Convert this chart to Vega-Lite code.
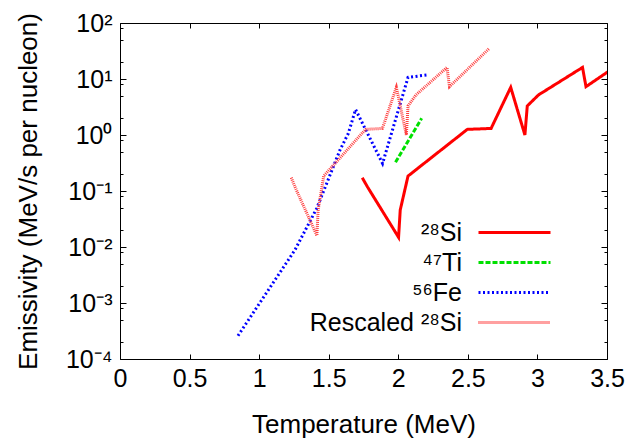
{
  "$schema": "https://vega.github.io/schema/vega-lite/v6.json",
  "width": 487,
  "height": 336,
  "autosize": {"type": "none"},
  "padding": {"left": 120, "top": 23, "right": 24, "bottom": 85},
  "background": "white",
  "config": {
    "view": {"stroke": "black", "strokeWidth": 1},
    "font": "Liberation Sans",
    "axis": {"domain": false, "grid": false, "tickColor": "black", "labelColor": "black", "titleColor": "black", "titleFontWeight": "normal", "labelFont": "Liberation Sans", "titleFont": "Liberation Sans", "labelFlush": false, "labelOverlap": false}
  },
  "data": {"values": [
    {"series": "²⁸Si", "T": 1.741, "v": 0.173},
    {"series": "²⁸Si", "T": 1.778, "v": 0.119},
    {"series": "²⁸Si", "T": 2.002, "v": 0.0149},
    {"series": "²⁸Si", "T": 2.014, "v": 0.0458},
    {"series": "²⁸Si", "T": 2.070, "v": 0.185},
    {"series": "²⁸Si", "T": 2.496, "v": 1.26},
    {"series": "²⁸Si", "T": 2.667, "v": 1.31},
    {"series": "²⁸Si", "T": 2.808, "v": 7.1},
    {"series": "²⁸Si", "T": 2.910, "v": 1.0},
    {"series": "²⁸Si", "T": 2.927, "v": 3.3},
    {"series": "²⁸Si", "T": 3.008, "v": 5.2},
    {"series": "²⁸Si", "T": 3.324, "v": 16.1},
    {"series": "²⁸Si", "T": 3.349, "v": 7.3},
    {"series": "²⁸Si", "T": 3.755, "v": 35.3},
    {"series": "⁴⁷Ti", "T": 1.980, "v": 0.325},
    {"series": "⁴⁷Ti", "T": 2.168, "v": 1.99},
    {"series": "⁵⁶Fe", "T": 0.848, "v": 0.00026},
    {"series": "⁵⁶Fe", "T": 1.258, "v": 0.0089},
    {"series": "⁵⁶Fe", "T": 1.414, "v": 0.049},
    {"series": "⁵⁶Fe", "T": 1.581, "v": 0.54},
    {"series": "⁵⁶Fe", "T": 1.641, "v": 1.07},
    {"series": "⁵⁶Fe", "T": 1.693, "v": 2.85},
    {"series": "⁵⁶Fe", "T": 1.887, "v": 0.31},
    {"series": "⁵⁶Fe", "T": 2.070, "v": 10.7},
    {"series": "⁵⁶Fe", "T": 2.216, "v": 11.9},
    {"series": "Rescaled ²⁸Si", "T": 1.231, "v": 0.173},
    {"series": "Rescaled ²⁸Si", "T": 1.257, "v": 0.119},
    {"series": "Rescaled ²⁸Si", "T": 1.415, "v": 0.016},
    {"series": "Rescaled ²⁸Si", "T": 1.424, "v": 0.0458},
    {"series": "Rescaled ²⁸Si", "T": 1.464, "v": 0.185},
    {"series": "Rescaled ²⁸Si", "T": 1.765, "v": 1.26},
    {"series": "Rescaled ²⁸Si", "T": 1.886, "v": 1.31},
    {"series": "Rescaled ²⁸Si", "T": 1.986, "v": 7.1},
    {"series": "Rescaled ²⁸Si", "T": 2.058, "v": 1.0},
    {"series": "Rescaled ²⁸Si", "T": 2.070, "v": 3.3},
    {"series": "Rescaled ²⁸Si", "T": 2.127, "v": 5.2},
    {"series": "Rescaled ²⁸Si", "T": 2.350, "v": 16.1},
    {"series": "Rescaled ²⁸Si", "T": 2.368, "v": 7.3},
    {"series": "Rescaled ²⁸Si", "T": 2.655, "v": 35.3}
  ]},
  "layer": [
    {
      "mark": {"type": "line", "clip": true},
      "encoding": {
        "x": {"field": "T", "type": "quantitative", "scale": {"domain": [0, 3.5], "nice": false, "zero": false},
          "axis": {"orient": "bottom", "values": [0, 0.5, 1, 1.5, 2, 2.5, 3, 3.5], "format": "~g", "tickSize": -5, "labelFontSize": 25, "labelPadding": 12, "title": "Temperature (MeV)", "titleFontSize": 26, "titlePadding": 20}},
        "y": {"field": "v", "type": "quantitative", "scale": {"type": "log", "domain": [0.0001, 100], "nice": false},
          "axis": {"orient": "left",
            "values": [0.0001, 0.0002, 0.0005, 0.0008, 0.001, 0.002, 0.005, 0.008, 0.01, 0.02, 0.05, 0.08, 0.1, 0.2, 0.5, 0.8, 1, 2, 5, 8, 10, 20, 50, 80, 100],
            "labelExpr": "abs(log(datum.value)/LN10 - round(log(datum.value)/LN10)) < 0.01 ? '10' + ['⁻⁴','⁻³','⁻²','⁻¹','⁰','¹','²'][round(log(datum.value)/LN10)+4] : ''",
            "tickSize": {"condition": {"test": "abs(log(datum.value)/LN10 - round(log(datum.value)/LN10)) < 0.01", "value": -6}, "value": -3},
            "labelFontSize": 25, "labelPadding": 14,
            "title": "Emissivity (MeV/s per nucleon)", "titleFontSize": 26, "titlePadding": 24}},
        "color": {"field": "series", "type": "nominal",
          "scale": {"domain": ["²⁸Si", "⁴⁷Ti", "⁵⁶Fe", "Rescaled ²⁸Si"], "range": ["#ff0000", "#00e000", "#0000ff", "#ff4040"]},
          "legend": {"orient": "none", "legendX": 381, "legendY": 196, "title": null, "symbolType": "M-3,0H3", "symbolSize": 576, "labelFontSize": 25, "labelAlign": "right", "labelOffset": -66, "rowPadding": 3, "padding": 0, "labelColor": "black", "labelFont": "Liberation Sans"}},
        "strokeDash": {"field": "series", "type": "nominal",
          "scale": {"domain": ["²⁸Si", "⁴⁷Ti", "⁵⁶Fe", "Rescaled ²⁸Si"], "range": [[1, 0], [5, 2], [2, 2.5], [1, 1]]}},
        "strokeWidth": {"field": "series", "type": "nominal",
          "scale": {"domain": ["²⁸Si", "⁴⁷Ti", "⁵⁶Fe", "Rescaled ²⁸Si"], "range": [3, 3, 3, 3]}}
      }
    },
    {
      "mark": {"type": "line", "opacity": 0},
      "encoding": {
        "x": {"field": "T", "type": "quantitative",
          "axis": {"orient": "top", "values": [0, 0.5, 1, 1.5, 2, 2.5, 3, 3.5], "tickSize": -5, "labels": false, "title": null}},
        "y": {"field": "v", "type": "quantitative",
          "axis": {"orient": "right",
            "values": [0.0001, 0.0002, 0.0005, 0.0008, 0.001, 0.002, 0.005, 0.008, 0.01, 0.02, 0.05, 0.08, 0.1, 0.2, 0.5, 0.8, 1, 2, 5, 8, 10, 20, 50, 80, 100],
            "tickSize": {"condition": {"test": "abs(log(datum.value)/LN10 - round(log(datum.value)/LN10)) < 0.01", "value": -6}, "value": -3},
            "labels": false, "title": null}}
      }
    }
  ],
  "resolve": {"axis": {"x": "independent", "y": "independent"}}
}
